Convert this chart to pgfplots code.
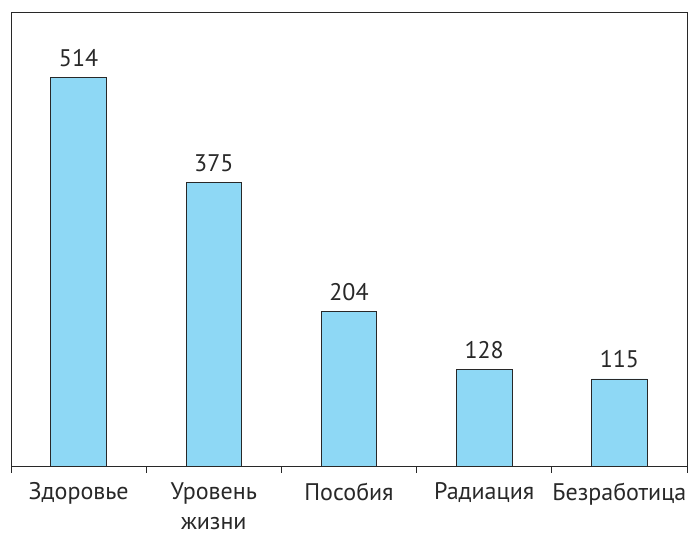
\documentclass[border=0pt]{standalone}
\usepackage{pgfplots}
\pgfplotsset{compat=1.18}
\usepackage{fontspec}
\setmainfont{PT Sans}
\definecolor{barfill}{RGB}{142,216,245}
\definecolor{ink}{RGB}{40,40,40}
\begin{document}
\begin{tikzpicture}
\begin{axis}[
  scale only axis,
  width=676pt, height=454pt,
  xmin=-0.5, xmax=4.5,
  ymin=0, ymax=600,
  ytick=\empty,
  xtick={0,1,2,3,4},
  xticklabels={Здоровье,{Уровень\\жизни},Пособия,Радиация,Безработица},
  major x tick style={draw=none},
  minor xtick={-0.5,0.5,1.5,2.5,3.5,4.5},
  minor tick length=7pt,
  tick align=outside,
  xtick pos=lower,
  /pgf/number format/assume math mode=true,
  axis line style={draw=ink, line width=0.8pt},
  minor x tick style={draw=ink, line width=0.8pt},
  xticklabel style={font=\fontsize{24}{30}\selectfont, text=ink, align=center, anchor=north, yshift=-9pt},
  bar width=0.41,
  nodes near coords,
  every node near coord/.append style={font=\fontsize{24}{28}\selectfont, text=ink, anchor=south, yshift=7pt},
  clip=false,
]
\addplot[ybar, fill=barfill, draw=ink, line width=0.8pt] coordinates {(0,514) (1,375) (2,204) (3,128) (4,115)};
\coordinate (BL) at (rel axis cs:0,0);
\coordinate (TR) at (rel axis cs:1,1);
\end{axis}
\pgfresetboundingbox
\path ([shift={(-11pt,-69pt)}]BL) rectangle ([shift={(5pt,12pt)}]TR);
\end{tikzpicture}
\end{document}
